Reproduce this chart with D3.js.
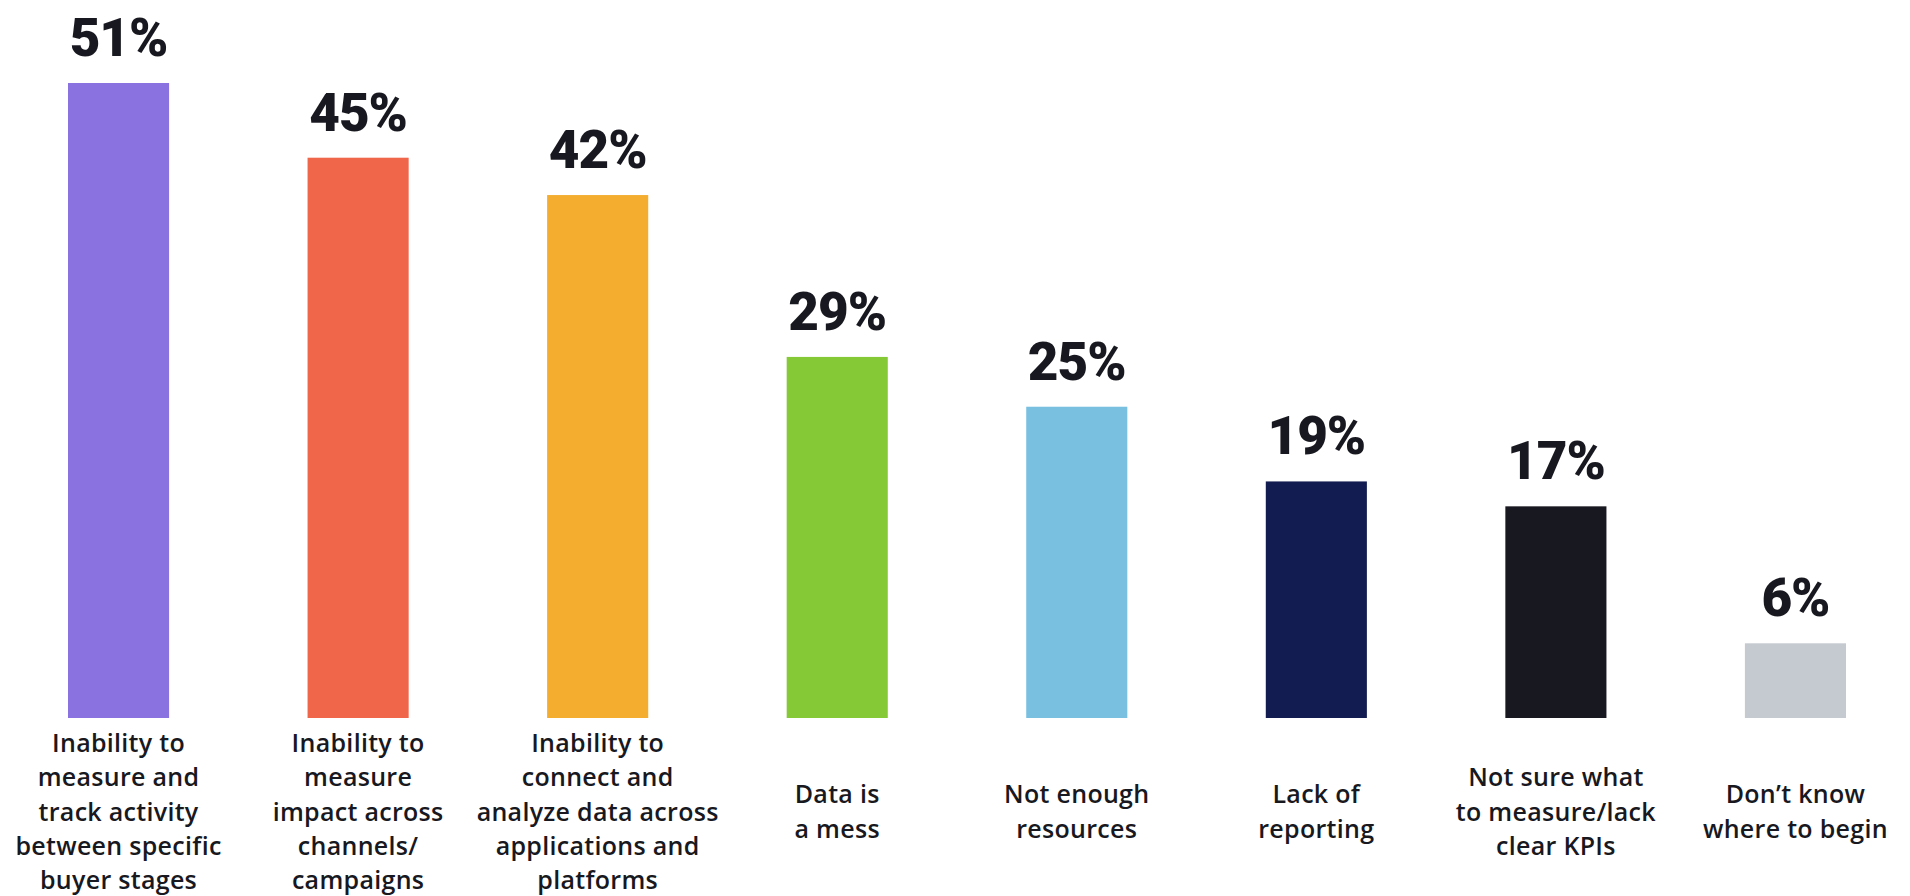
<!DOCTYPE html>
<html>
<head>
<meta charset="utf-8">
<script src="https://cdn.jsdelivr.net/npm/d3@7"></script>
<style>
  html, body { margin: 0; padding: 0; background: #ffffff; }
  svg { display: block; }
</style>
</head>
<body>
<svg id="chart" width="1910" height="896"></svg>
<script>
// Survey answers: biggest measurement challenges
const categories = [
  "Inability to measure and track activity between specific buyer stages",
  "Inability to measure impact across channels/ campaigns",
  "Inability to connect and analyze data across applications and platforms",
  "Data is a mess",
  "Not enough resources",
  "Lack of reporting",
  "Not sure what to measure/lack clear KPIs",
  "Don’t know where to begin"
];
const labelLines = [
  ["Inability to", "measure and", "track activity", "between specific", "buyer stages"],
  ["Inability to", "measure", "impact across", "channels/", "campaigns"],
  ["Inability to", "connect and", "analyze data across", "applications and", "platforms"],
  ["Data is", "a mess"],
  ["Not enough", "resources"],
  ["Lack of", "reporting"],
  ["Not sure what", "to measure/lack", "clear KPIs"],
  ["Don’t know", "where to begin"]
];
const values = [51, 45, 42, 29, 25, 19, 17, 6];
const colors = ["#8a73e0", "#f0664a", "#f4ad2e", "#85c936", "#79c0e0", "#131c50", "#181820", "#c5cad1"];

const svg = d3.select("#chart");
const ink = "#181820";

const x = d3.scaleBand()
  .domain(categories)
  .range([68, 1846])
  .paddingInner(0.578)
  .paddingOuter(0);

const y = d3.scaleLinear()
  .domain([0, d3.max(values)])
  .range([718, 83]);

const data = categories.map((c, i) => ({ c, v: values[i], color: colors[i], lines: labelLines[i] }));

// bars
svg.append("g")
  .selectAll("rect")
  .data(data)
  .join("rect")
  .attr("x", d => x(d.c))
  .attr("y", d => y(d.v))
  .attr("width", x.bandwidth())
  .attr("height", d => y(0) - y(d.v))
  .attr("fill", d => d.color);

// value labels above bars
svg.append("g")
  .selectAll("text")
  .data(data)
  .join("text")
  .attr("x", d => x(d.c) + x.bandwidth() / 2)
  .attr("y", d => y(d.v) - 27)
  .attr("text-anchor", "middle")
  .attr("font-family", "Roboto, sans-serif")
  .attr("font-weight", 900)
  .attr("font-size", 53)
  .attr("letter-spacing", -1)
  .attr("fill", ink)
  .text(d => d.v + "%");

// category labels under the baseline, centred vertically as a block
const lineH = 34.3;
const midBaseline = 820.5;
const cat = svg.append("g")
  .selectAll("text")
  .data(data)
  .join("text")
  .attr("text-anchor", "middle")
  .attr("font-family", "'Open Sans', sans-serif")
  .attr("font-weight", 600)
  .attr("font-size", 25)
  .attr("letter-spacing", 0.3)
  .attr("fill", ink);

cat.each(function(d) {
  const t = d3.select(this);
  const n = d.lines.length;
  const cx = x(d.c) + x.bandwidth() / 2;
  d.lines.forEach((ln, j) => {
    t.append("tspan")
      .attr("x", cx)
      .attr("y", midBaseline + (j - (n - 1) / 2) * lineH)
      .text(ln);
  });
});
</script>
</body>
</html>
